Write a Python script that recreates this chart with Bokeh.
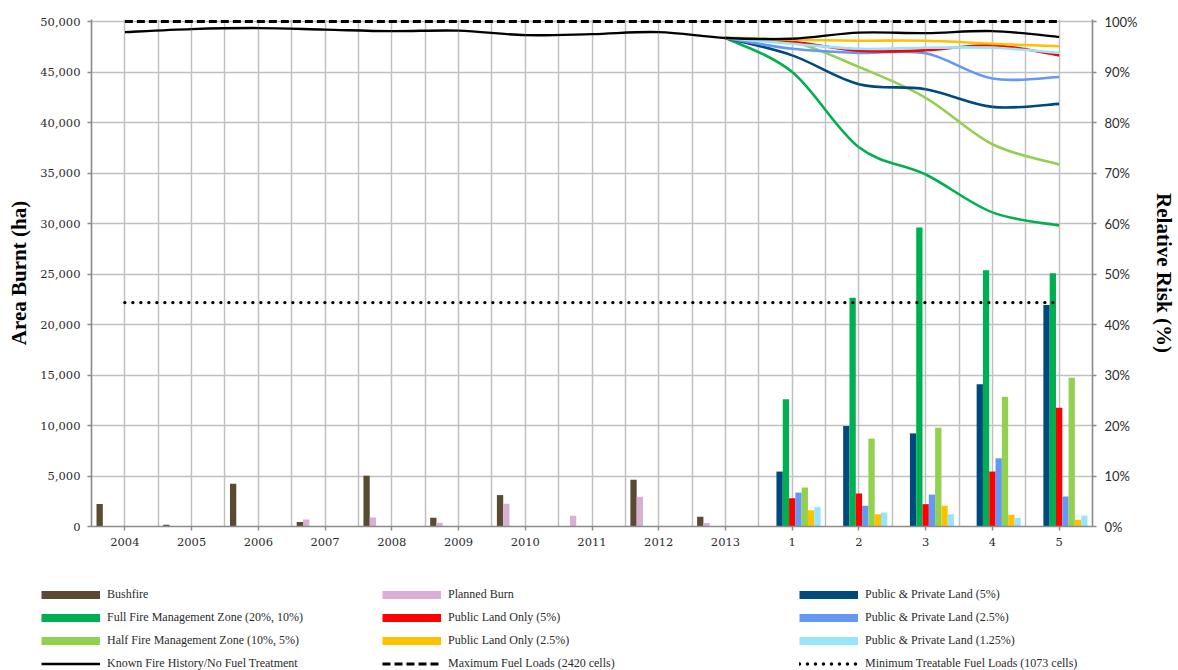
import numpy as np
from bokeh.plotting import figure
from bokeh.layouts import column
from bokeh.models import (Range1d, LinearAxis, FixedTicker,
                          NumeralTickFormatter, PrintfTickFormatter, Legend, LegendItem,
                          ColumnDataSource, Grid)
from bokeh.transform import dodge
from bokeh.embed import file_html
from bokeh.resources import INLINE

# ---------------------------------------------------------------- data
categories = ["2004", "2005", "2006", "2007", "2008", "2009", "2010", "2011",
              "2012", "2013", "1", "2", "3", "4", "5"]
history_years = categories[:10]
scenario_years = categories[10:]

# area burnt (ha) in the historical record
bushfire = [2220, 170, 4230, 436, 5030, 860, 3110, 0, 4630, 960]
planned_burn = [0, 0, 0, 690, 890, 370, 2250, 1060, 2940, 340]

# area burnt (ha) under each treatment scenario, years 1-5
pp_land_5 = [5440, 9950, 9220, 14080, 21940]
full_fmz = [12600, 22640, 29600, 25370, 25080]
public_5 = [2800, 3270, 2210, 5440, 11760]
pp_land_2_5 = [3360, 2050, 3160, 6750, 2970]
half_fmz = [3860, 8700, 9780, 12850, 14720]
public_2_5 = [1620, 1220, 2050, 1160, 660]
pp_land_1_25 = [1950, 1390, 1220, 830, 1090]

# relative risk (%) - known history covers every year, scenarios start at 2013
known_history_risk = [97.9, 98.5, 98.7, 98.4, 98.1, 98.2, 97.3, 97.5, 97.9, 96.75,
                      96.6, 97.8, 97.7, 98.1, 96.95]
risk_years = categories[9:]
full_fmz_risk = [96.75, 90.0, 75.1, 69.7, 62.2, 59.6]
half_fmz_risk = [96.75, 96.0, 91.0, 84.9, 75.7, 71.7]
pp_land_5_risk = [96.75, 93.3, 87.6, 86.6, 83.1, 83.7]
pp_land_2_5_risk = [96.75, 94.6, 93.8, 93.7, 88.7, 89.0]
public_5_risk = [96.75, 96.0, 94.2, 94.3, 95.3, 93.3]
public_2_5_risk = [96.75, 96.4, 96.2, 96.2, 95.6, 95.1]
pp_land_1_25_risk = [96.75, 95.6, 94.6, 94.8, 94.8, 93.8]

max_fuel_cells = 2420
min_fuel_cells = 1073

# ---------------------------------------------------------------- style
C_BUSH = "#594a31"
C_PLAN = "#d8b0d6"
C_PP5 = "#00497e"
C_FULL = "#00b050"
C_PUB5 = "#ff0000"
C_PP25 = "#6597f5"
C_HALF = "#92d050"
C_PUB25 = "#ffc000"
C_PP125 = "#97e5fc"
GRID = "#c0c0c0"
AXIS = "#8a8a8a"
TEXT = "#2b2b2b"
SERIF = "Liberation Serif"

KNOWN_W, MAX_W, MIN_W = 2.4, 2.8, 3.4
MAX_DASH, MIN_DASH = "8 4", "0 8"

pos = {c: i for i, c in enumerate(categories)}

# a little headroom above 50,000 so the 100% line is not cut by the frame edge
Y_TOP = 50200
p = figure(width=1178, height=560, output_backend="svg", toolbar_location=None,
           x_range=Range1d(-0.5, len(categories) - 0.5), y_range=Range1d(0, Y_TOP),
           min_border_left=91, min_border_right=82, min_border_top=19,
           min_border_bottom=34)
p.extra_y_ranges = {"risk": Range1d(0, 100.0 * Y_TOP / 50000)}
p.outline_line_color = None
p.background_fill_color = "white"
p.border_fill_color = "white"
p.frame_align = False

# ---------------------------------------------------------------- grids
p.xgrid.visible = False
p.ygrid.ticker = FixedTicker(ticks=list(range(0, 50001, 5000)))
p.ygrid.grid_line_color = GRID
p.ygrid.grid_line_width = 1.5
half_steps = list(np.arange(-0.5, len(categories), 0.5))
p.add_layout(Grid(dimension=0, ticker=FixedTicker(ticks=half_steps),
                  grid_line_color=GRID, grid_line_width=1.5))

# ---------------------------------------------------------------- bars
series_bars = [
    ("bushfire", history_years, bushfire, C_BUSH),
    ("planned", history_years, planned_burn, C_PLAN),
    ("pp5", scenario_years, pp_land_5, C_PP5),
    ("full", scenario_years, full_fmz, C_FULL),
    ("pub5", scenario_years, public_5, C_PUB5),
    ("pp25", scenario_years, pp_land_2_5, C_PP25),
    ("half", scenario_years, half_fmz, C_HALF),
    ("pub25", scenario_years, public_2_5, C_PUB25),
    ("pp125", scenario_years, pp_land_1_25, C_PP125),
]
n_slots = len(series_bars)
bar_w = 0.85 / n_slots
for k, (name, yrs, vals, col) in enumerate(series_bars):
    src = ColumnDataSource(dict(x=[pos[y] for y in yrs], top=vals))
    p.vbar(x=dodge("x", (k - (n_slots - 1) / 2) * bar_w, range=p.x_range),
           top="top", width=bar_w, source=src, fill_color=col, line_color=None)


# ---------------------------------------------------------------- smoothed risk lines
def smooth(yrs, vals, color, width=2.6):
    xs = np.array([pos[y] for y in yrs], dtype=float)
    ys = np.array(vals, dtype=float)
    n = len(xs)
    i = np.arange(n - 1)
    im = np.maximum(i - 1, 0)
    ip = np.minimum(i + 2, n - 1)
    src = ColumnDataSource(dict(
        x0=xs[i], y0=ys[i], x1=xs[i + 1], y1=ys[i + 1],
        cx0=xs[i] + (xs[i + 1] - xs[im]) / 6, cy0=ys[i] + (ys[i + 1] - ys[im]) / 6,
        cx1=xs[i + 1] - (xs[ip] - xs[i]) / 6, cy1=ys[i + 1] - (ys[ip] - ys[i]) / 6,
    ))
    return p.bezier(x0="x0", y0="y0", x1="x1", y1="y1", cx0="cx0", cy0="cy0",
                    cx1="cx1", cy1="cy1", source=src, y_range_name="risk",
                    line_color=color, line_width=width)


smooth(risk_years, full_fmz_risk, C_FULL)
smooth(risk_years, half_fmz_risk, C_HALF)
smooth(risk_years, pp_land_5_risk, C_PP5)
smooth(risk_years, pp_land_2_5_risk, C_PP25)
smooth(risk_years, public_5_risk, C_PUB5)
smooth(risk_years, public_2_5_risk, C_PUB25)
smooth(risk_years, pp_land_1_25_risk, C_PP125)
smooth(categories, known_history_risk, "black", KNOWN_W)

all_x = [pos[c] for c in categories]
p.line(x=all_x, y=[100.0 * max_fuel_cells / max_fuel_cells] * len(all_x),
       y_range_name="risk", line_color="black", line_width=MAX_W, line_dash=MAX_DASH)
p.line(x=all_x, y=[100.0 * min_fuel_cells / max_fuel_cells] * len(all_x),
       y_range_name="risk", line_color="black", line_width=MIN_W,
       line_dash=MIN_DASH, line_cap="round")

# ---------------------------------------------------------------- axes
xa = p.xaxis[0]
xa.ticker = FixedTicker(ticks=all_x)
xa.major_label_overrides = {i: c for i, c in enumerate(categories)}
yl = p.yaxis[0]
yl.ticker = FixedTicker(ticks=list(range(0, 50001, 5000)))
yl.formatter = NumeralTickFormatter(format="0,0")
yl.axis_label = "Area Burnt (ha)"

yr = LinearAxis(y_range_name="risk", ticker=FixedTicker(ticks=list(range(0, 101, 10))),
                formatter=PrintfTickFormatter(format="%d%%"), axis_label="Relative Risk (%)")
p.add_layout(yr, "right")

for ax in (xa, yl, yr):
    ax.axis_line_color = AXIS
    ax.axis_line_width = 1.6
    ax.major_tick_line_color = AXIS
    ax.major_tick_line_width = 1.4
    ax.major_tick_in = 0
    ax.major_tick_out = 4
    ax.minor_tick_line_color = None
    ax.major_label_text_color = TEXT
    ax.axis_label_text_color = "black"
    ax.axis_label_text_font = SERIF
    ax.axis_label_text_font_style = "bold"
    ax.axis_label_text_font_size = "21px"

xa.major_label_text_font = "DejaVu Serif"
xa.major_label_text_font_size = "11.5px"
xa.major_label_standoff = 7
yl.major_label_text_font = "DejaVu Serif"
yl.major_label_text_font_size = "11.5px"
yl.major_label_standoff = 7
yl.axis_label_standoff = 6
yr.major_label_text_font = "Lato"
yr.major_label_text_font_size = "13px"
yr.major_label_standoff = 8
yr.axis_label_standoff = 11

# ---------------------------------------------------------------- legend panel
q = figure(width=1178, height=110, output_backend="svg", toolbar_location=None,
           x_range=Range1d(0, 1), y_range=Range1d(0, 1),
           x_axis_location=None, y_axis_location=None,
           min_border_left=0, min_border_right=0, min_border_top=0, min_border_bottom=0)
q.grid.visible = False
q.outline_line_color = None
q.border_fill_color = "white"
q.frame_align = False


def key(color, width=8, dash="solid", cap="butt"):
    # legend swatch: a single-vertex line, which strokes nothing in the panel itself
    return q.line(x=[0], y=[0], line_color=color, line_width=width,
                  line_dash=dash, line_cap=cap)


columns = [
    (41, [("Bushfire", key(C_BUSH)),
          ("Full Fire Management Zone (20%, 10%)", key(C_FULL)),
          ("Half Fire Management Zone (10%, 5%)", key(C_HALF)),
          ("Known Fire History/No Fuel Treatment", key("black", KNOWN_W))]),
    (382, [("Planned Burn", key(C_PLAN)),
           ("Public Land Only (5%)", key(C_PUB5)),
           ("Public Land Only (2.5%)", key(C_PUB25)),
           (f"Maximum Fuel Loads ({max_fuel_cells} cells)",
            key("black", MAX_W, MAX_DASH))]),
    (799, [("Public & Private Land (5%)", key(C_PP5)),
           ("Public & Private Land (2.5%)", key(C_PP25)),
           ("Public & Private Land (1.25%)", key(C_PP125)),
           (f"Minimum Treatable Fuel Loads ({min_fuel_cells} cells)",
            key("black", MIN_W, MIN_DASH, "round"))]),
]
for x_off, entries in columns:
    leg = Legend(items=[LegendItem(label=t, renderers=[r]) for t, r in entries],
                 location=(x_off, -1), orientation="vertical", padding=0, margin=0,
                 spacing=8, glyph_width=59, glyph_height=15, label_height=15,
                 label_standoff=7, label_text_font=SERIF, label_text_font_size="12px",
                 label_text_color=TEXT, border_line_color=None, background_fill_alpha=0)
    q.add_layout(leg)

layout = column(p, q, spacing=0)
open("out.html", "w").write(file_html(layout, INLINE))
